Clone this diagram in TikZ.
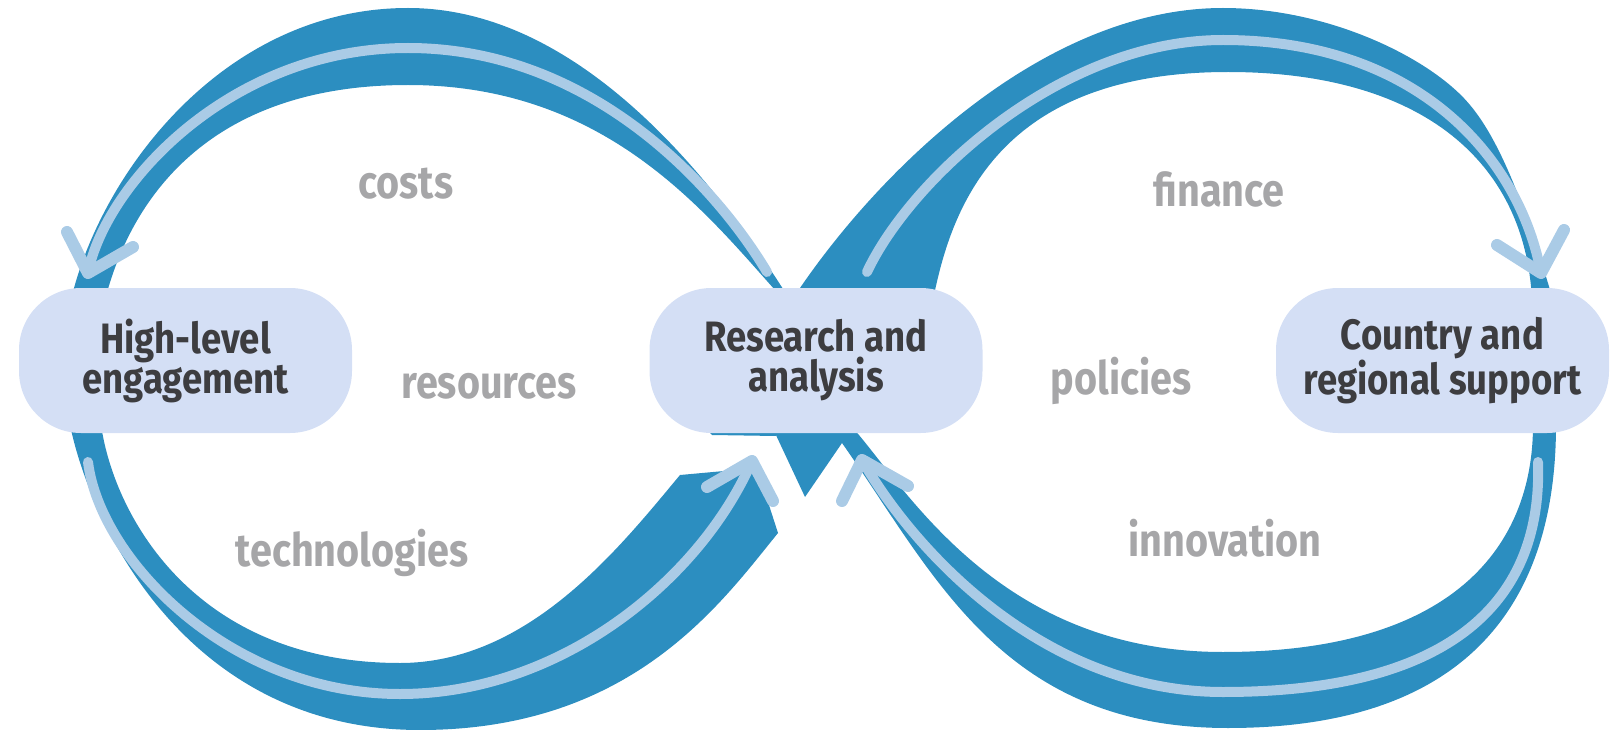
\documentclass[tikz,border=0pt]{standalone}
\usepackage{fontspec}
\setmainfont{Fira Sans}
\newfontfamily\boxfont{Fira Sans}[FakeStretch=0.86]
\definecolor{ribbon}{HTML}{2C8EC0}
\definecolor{lightline}{HTML}{AACBE6}
\definecolor{boxfill}{HTML}{D4DFF5}
\definecolor{boxtext}{HTML}{3D3D40}
\definecolor{labeltext}{HTML}{A6A6A8}
\begin{document}
\begin{tikzpicture}[x=1pt,y=-1pt,
  stagebox/.style={fill=boxfill, rounded corners=62pt, minimum width=333pt, minimum height=145pt,
    inner sep=0pt, align=center, text=boxtext, font=\boxfont\bfseries\fontsize{42.5}{40}\selectfont},
  topic/.style={text=labeltext, inner sep=0pt, font=\boxfont\bfseries\fontsize{46}{46}\selectfont},
  band/.style={fill=ribbon},
  flowline/.style={draw=lightline, line width=10pt, line cap=round, line join=round},
  flowtip/.style={draw=lightline, line width=12pt, line cap=round, line join=round}]
\useasboundingbox (0,0) rectangle (1620,730);

% left loop, upper arc
\fill[band] (790,300) .. controls (700,156) and (567,8) .. (408,8)
  .. controls (223,8) and (100,175) .. (71,300)
  -- (105,300) .. controls (130,202) and (206,85) .. (408,85)
  .. controls (612,85) and (711,220) .. (784,300) -- cycle;

% right loop, upper arc
\fill[band] (792,300) .. controls (871,179) and (1039,8) .. (1223,8)
  .. controls (1330,8) and (1432,59) .. (1470,105)
  .. controls (1502,143) and (1528,215) .. (1553,300)
  -- (1532,300) .. controls (1525,160) and (1420,72) .. (1228,72)
  .. controls (996,72) and (951,210) .. (933,300) -- cycle;

% left loop, lower arc
\fill[band] (680,475) -- (757,468) -- (778,533)
  .. controls (721,603) and (632,730) .. (420,730)
  .. controls (190,730) and (92,530) .. (70,425)
  -- (101,425) .. controls (115,520) and (198,663) .. (400,663)
  .. controls (529,663) and (620,547) .. (680,475) -- cycle;

% right loop, lower arc with the centre wedge
\fill[band] (770,425) -- (775,433) -- (805,497) -- (842,443)
  .. controls (935,575) and (1002,728) .. (1228,728)
  .. controls (1480,728) and (1556,590) .. (1556,425)
  -- (1533,425) .. controls (1533,545) and (1455,652) .. (1223,652)
  .. controls (1000,652) and (908,491) .. (853,428)
  -- (853,420) -- cycle;
\fill[band] (705,428) -- (778,428) -- (776,436) -- (712,435) -- cycle;

% light flow lines
\coordinate (tipLT) at (88,273);
\coordinate (tipRT) at (1541,273);
\coordinate (tipLB) at (752,461);
\coordinate (tipRB) at (862,460);
\draw[flowline] (767,272) .. controls (715,185) and (590,48) .. (408,48)
  .. controls (230,48) and (105,185) .. (tipLT);
\draw[flowline] (867,272) .. controls (910,180) and (1060,40) .. (1223,40)
  .. controls (1420,40) and (1520,160) .. (tipRT);
\draw[flowline] (88,462) .. controls (100,560) and (230,694) .. (400,694)
  .. controls (560,694) and (700,580) .. (tipLB);
\draw[flowline] (1538,462) .. controls (1543,610) and (1440,692) .. (1223,692)
  .. controls (1050,692) and (920,560) .. (tipRB);
\draw[flowtip] (67,232) -- (tipLT) -- (133,247);
\draw[flowtip] (1497,245) -- (tipRT) -- (1564,230);
\draw[flowtip] (707,487) -- (tipLB) -- (773,501);
\draw[flowtip] (842,501) -- (tipRB) -- (908,486);

% stage boxes
\node[stagebox] (hle) at (185.5,360.5) {High-level\\engagement};
\node[stagebox] (raa) at (816,360.5) {Research and\\analysis};
\node[stagebox] (crs) at (1442.5,360.5) {Country and\\regional support};

% topic labels
\node[topic] (costs) at (406,184) {costs};
\node[topic] (resources) at (489,386) {resources};
\node[topic] (technologies) at (352,553) {technologies};
\node[topic] (finance) at (1219,189) {finance};
\node[topic] (policies) at (1121,381) {policies};
\node[topic] (innovation) at (1225,538) {innovation};
\end{tikzpicture}
\end{document}
